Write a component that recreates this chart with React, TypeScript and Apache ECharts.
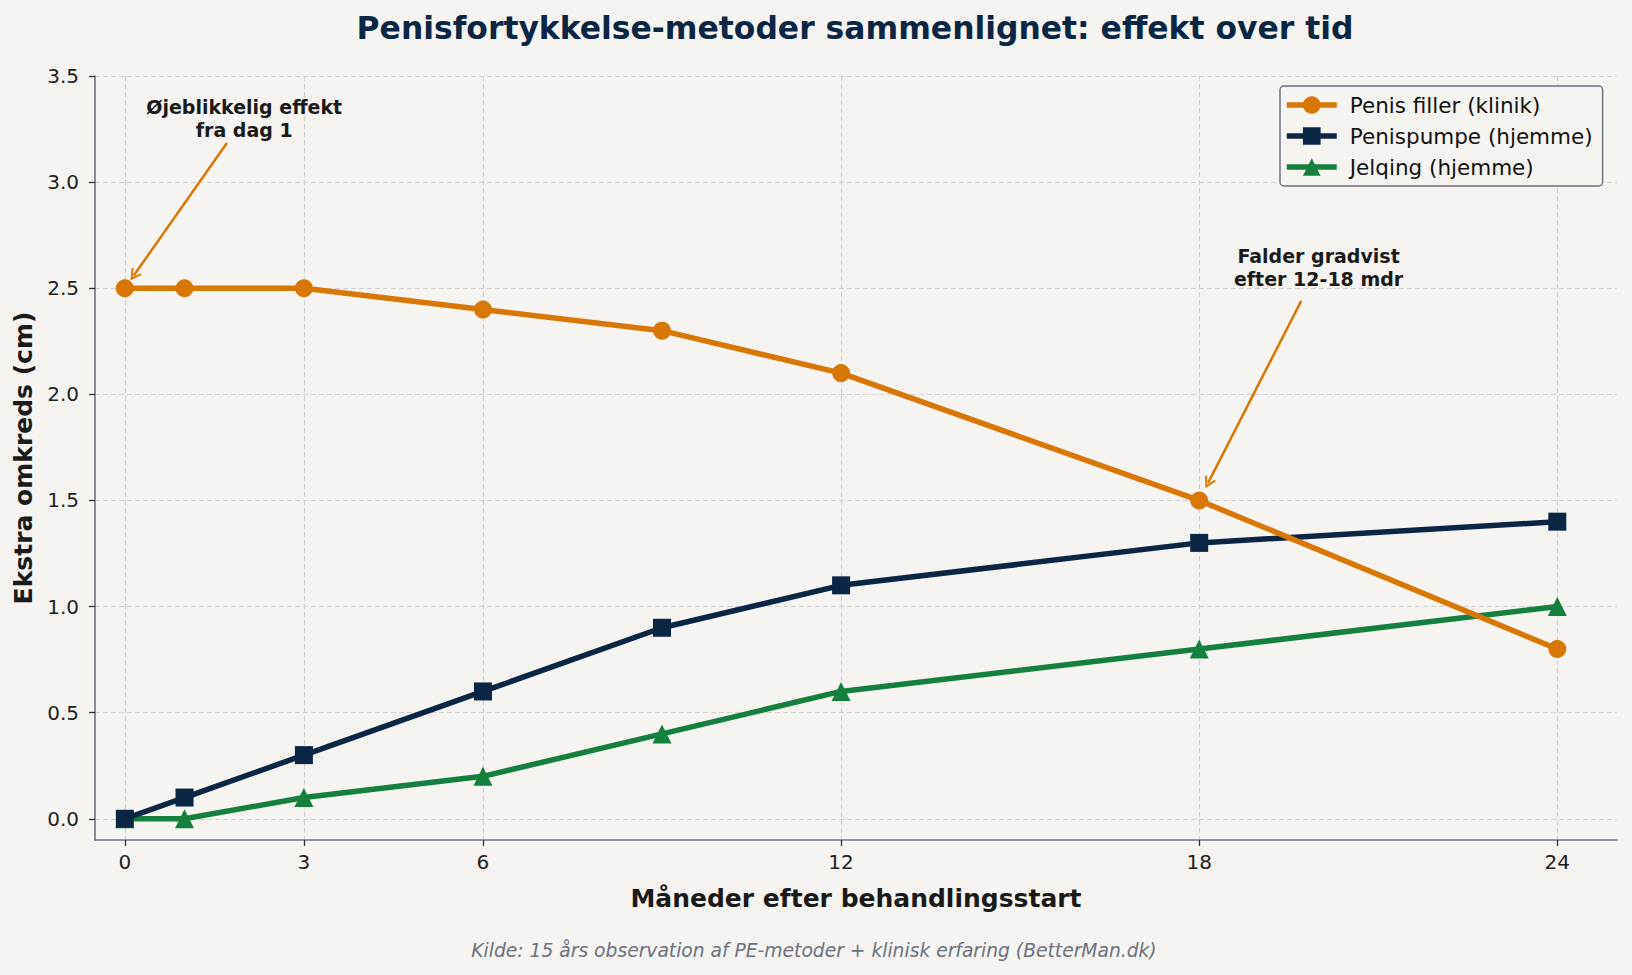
import React, { useEffect, useRef } from "react";
import * as echarts from "echarts";

// Months after treatment start
const months = [0, 1, 3, 6, 9, 12, 18, 24];

// Extra girth (cm) per method
const fillerValues = [2.5, 2.5, 2.5, 2.4, 2.3, 2.1, 1.5, 0.8];
const pumpValues = [0, 0.1, 0.3, 0.6, 0.9, 1.1, 1.3, 1.4];
const jelqValues = [0, 0, 0.1, 0.2, 0.4, 0.6, 0.8, 1.0];

const seriesNames = ["Penis filler (klinik)", "Penispumpe (hjemme)", "Jelqing (hjemme)"];

// Tick labels
const xTicks = [0, 3, 6, 12, 18, 24];
const yTicks = [0, 0.5, 1.0, 1.5, 2.0, 2.5, 3.0, 3.5];

// Annotations: point on the filler line and where its note sits
const noteTexts = ["Øjeblikkelig effekt\nfra dag 1", "Falder gradvist\nefter 12-18 mdr"];
const notePoints = [
  [0, 2.5],
  [18, 1.5],
];
const noteAnchors = [
  [2, 3.3],
  [20, 2.6],
];

const TITLE = "Penisfortykkelse-metoder sammenlignet: effekt over tid";
const SOURCE = "Kilde: 15 års observation af PE-metoder + klinisk erfaring (BetterMan.dk)";

const BG = "#f5f4f0";
const ORANGE = "#d97706";
const NAVY = "#0b2545";
const GREEN = "#15803d";
const FONT = "DejaVu Sans";

// open "->" style arrow head
const ARROW_HEAD = "path://M5,0 L10,9 L8.7,10 L5,3.4 L1.3,10 L0,9 Z";

const pairs = (ys: number[]) => months.map((m, i) => [m, ys[i]]);

const lerp = (a: number[], b: number[], t: number) => [a[0] + (b[0] - a[0]) * t, a[1] + (b[1] - a[1]) * t];

export default function App() {
  const ref = useRef<HTMLDivElement>(null);

  useEffect(() => {
    if (!ref.current) return;
    const chart = echarts.init(ref.current, null, { renderer: "svg" });

    const arrowLines = notePoints.map((pt, i) => {
      const from = lerp(noteAnchors[i], pt, 0.145);
      const to = lerp(noteAnchors[i], pt, 0.925);
      return [{ coord: from }, { coord: to }];
    });

    const notes = noteTexts.map((t, i) => ({ coord: noteAnchors[i], value: t }));

    const axisLabelStyle = { color: "#222222", fontSize: 20, fontFamily: FONT };
    const gridLine = { show: true, lineStyle: { color: "#d0d0d0", type: [5, 3], width: 1.2 } };
    const spine = { show: true, onZero: false, lineStyle: { color: "#6b7280", width: 1.6 } };

    chart.setOption({
      animation: false,
      backgroundColor: BG,
      textStyle: { fontFamily: FONT },
      graphic: [
        {
          type: "text",
          x: 855,
          y: 28,
          style: {
            text: TITLE,
            fill: NAVY,
            font: `bold 31.4px '${FONT}'`,
            textAlign: "center",
            textVerticalAlign: "middle",
          },
        },
        {
          type: "text",
          x: 814,
          y: 950,
          style: {
            text: SOURCE,
            fill: "#6b7280",
            font: `italic 18.7px '${FONT}'`,
            textAlign: "center",
            textVerticalAlign: "middle",
          },
        },
      ],
      grid: { left: 95, right: 15, top: 76, bottom: 135, containLabel: false },
      legend: {
        orient: "vertical",
        left: 1280,
        top: 86,
        padding: [8, 10, 8, 4],
        itemWidth: 50,
        itemHeight: 22,
        itemGap: 9,
        backgroundColor: BG,
        borderColor: "#6b7280",
        borderWidth: 1.5,
        borderRadius: 4,
        lineStyle: { width: 5.5 },
        textStyle: { fontSize: 21.5, color: "#111111", fontFamily: FONT, padding: [0, 0, 0, 8] },
        data: seriesNames,
      },
      xAxis: {
        type: "value",
        min: -0.5,
        max: 25,
        name: "Måneder efter behandlingsstart",
        nameLocation: "middle",
        nameGap: 46,
        nameTextStyle: { fontSize: 25, fontWeight: "bold", color: "#1a1a1a", fontFamily: FONT },
        axisLine: spine,
        axisTick: { show: true, customValues: xTicks, length: 6, lineStyle: { color: "#333333", width: 1.3 } },
        axisLabel: { customValues: xTicks, margin: 12, ...axisLabelStyle },
        splitLine: gridLine,
      },
      yAxis: {
        type: "value",
        min: -0.1,
        max: 3.5,
        name: "Ekstra omkreds (cm)",
        nameLocation: "middle",
        nameGap: 55,
        nameTextStyle: { fontSize: 25, fontWeight: "bold", color: "#1a1a1a", fontFamily: FONT },
        axisLine: spine,
        axisTick: { show: true, customValues: yTicks, length: 6, lineStyle: { color: "#333333", width: 1.3 } },
        axisLabel: {
          customValues: yTicks,
          margin: 16,
          formatter: (v: number) => v.toFixed(1),
          ...axisLabelStyle,
        },
        splitLine: gridLine,
      },
      series: [
        {
          name: seriesNames[0],
          type: "line",
          z: 4,
          data: pairs(fillerValues),
          symbol: "circle",
          symbolSize: 18,
          lineStyle: { color: ORANGE, width: 5.5 },
          itemStyle: { color: ORANGE },
          markLine: {
            silent: true,
            symbol: ["none", ARROW_HEAD],
            symbolSize: [12, 12],
            label: { show: false },
            lineStyle: { color: ORANGE, width: 2.5, type: "solid" },
            data: arrowLines,
          },
          markPoint: {
            silent: true,
            symbol: "circle",
            symbolSize: 0,
            label: {
              show: true,
              position: "inside",
              formatter: (p: any) => p.value,
              fontFamily: FONT,
              fontSize: 19,
              fontWeight: "bold",
              lineHeight: 23,
              color: "#1a1a1a",
              align: "center",
              verticalAlign: "middle",
            },
            data: notes,
          },
        },
        {
          name: seriesNames[1],
          type: "line",
          z: 3,
          data: pairs(pumpValues),
          symbol: "rect",
          symbolSize: 18,
          lineStyle: { color: NAVY, width: 5.5 },
          itemStyle: { color: NAVY },
        },
        {
          name: seriesNames[2],
          type: "line",
          z: 2,
          data: pairs(jelqValues),
          symbol: "triangle",
          symbolSize: 19,
          lineStyle: { color: GREEN, width: 5.5 },
          itemStyle: { color: GREEN },
        },
      ],
    });

    return () => chart.dispose();
  }, []);

  return (
    <div
      ref={ref}
      style={{ position: "absolute", left: 0, top: 0, width: 1632, height: 975, background: BG }}
    />
  );
}
